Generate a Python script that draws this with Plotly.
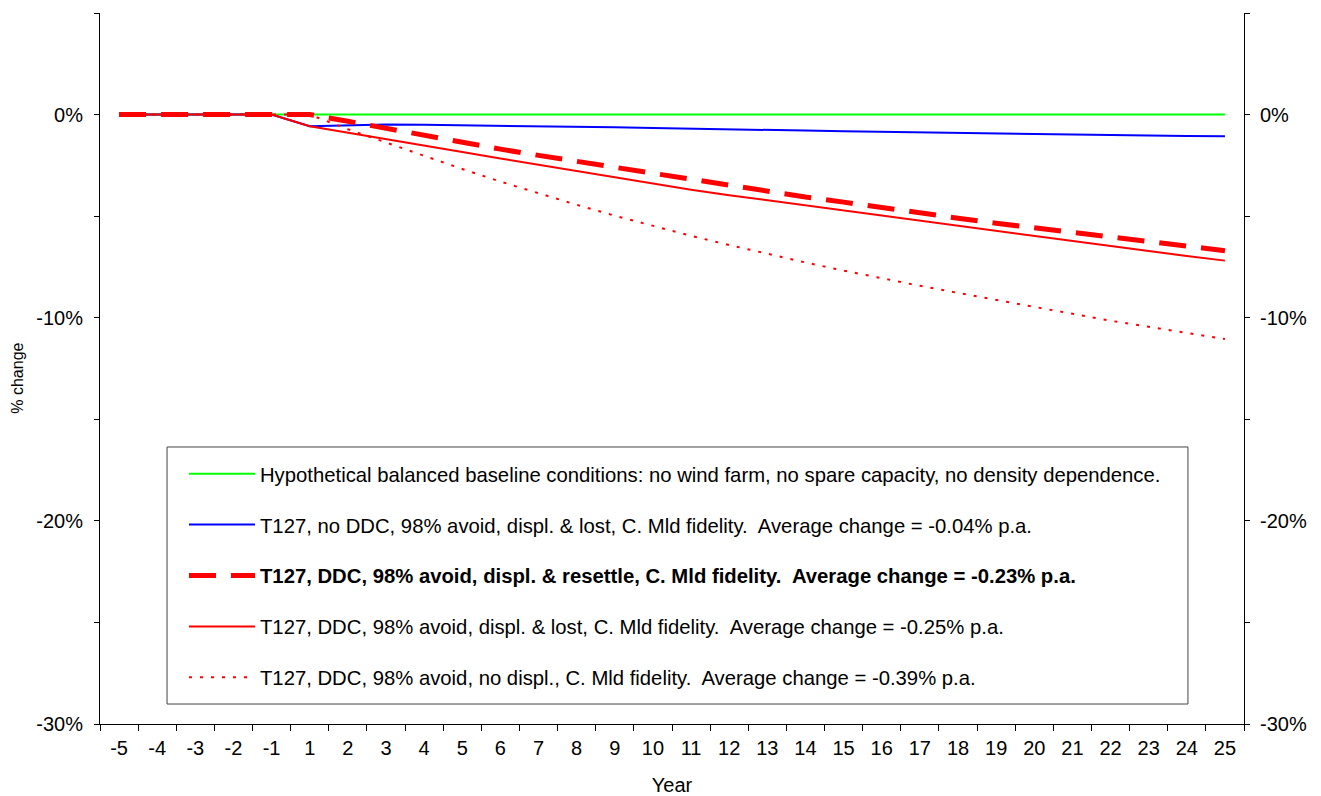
import plotly.graph_objects as go

# ---------------- data ----------------
years = ["-5", "-4", "-3", "-2", "-1", "1", "2", "3", "4", "5", "6", "7", "8", "9", "10",
         "11", "12", "13", "14", "15", "16", "17", "18", "19", "20", "21", "22", "23", "24", "25"]

baseline = [0, 0, 0, 0, 0, 0, 0, 0, 0, 0, 0, 0, 0, 0, 0,
            0, 0, 0, 0, 0, 0, 0, 0, 0, 0, 0, 0, 0, 0, 0]

no_ddc_lost = [0, 0, 0, 0, 0, -0.57, -0.52, -0.49, -0.50, -0.52, -0.54, -0.57, -0.60, -0.63, -0.66,
               -0.70, -0.73, -0.76, -0.79, -0.82, -0.85, -0.88, -0.90, -0.93, -0.95, -0.98, -1.00, -1.03, -1.05, -1.07]

ddc_resettle = [0, 0, 0, 0, 0, 0, -0.33, -0.68, -1.04, -1.38, -1.70, -2.01, -2.31, -2.61, -2.91,
                -3.21, -3.48, -3.78, -4.06, -4.31, -4.59, -4.85, -5.10, -5.35, -5.59, -5.82, -6.03, -6.25, -6.47, -6.70]

ddc_lost = [0, 0, 0, 0, 0, -0.57, -0.88, -1.20, -1.52, -1.84, -2.16, -2.47, -2.78, -3.09, -3.40,
            -3.70, -3.97, -4.22, -4.47, -4.73, -4.98, -5.23, -5.49, -5.74, -5.99, -6.25, -6.49, -6.72, -6.96, -7.19]

ddc_no_displ = [0, 0, 0, 0, 0, 0, -0.72, -1.38, -2.03, -2.68, -3.30, -3.88, -4.44, -4.98, -5.49,
                -5.97, -6.42, -6.86, -7.28, -7.68, -8.07, -8.43, -8.78, -9.13, -9.48, -9.82, -10.15, -10.45, -10.75, -11.05]

names = [
    "Hypothetical balanced baseline conditions: no wind farm, no spare capacity, no density dependence.",
    "T127, no DDC, 98% avoid, displ. & lost, C. Mld fidelity.\u00a0 Average change = -0.04% p.a.",
    "<b>T127, DDC, 98% avoid, displ. & resettle, C. Mld fidelity.\u00a0 Average change = -0.23% p.a.</b>",
    "T127, DDC, 98% avoid, displ. & lost, C. Mld fidelity.\u00a0 Average change = -0.25% p.a.",
    "T127, DDC, 98% avoid, no displ., C. Mld fidelity.\u00a0 Average change = -0.39% p.a.",
]

y_tickvals = [-30, -20, -10, 0]
y_ticktext = ["-30%", "-20%", "-10%", "0%"]

FONT = "Liberation Sans, Arial, sans-serif"

# ---------------- figure ----------------
fig = go.Figure()

series = [
    (baseline, "#00ff00", 2, "solid", 0),
    (no_ddc_lost, "#0000ff", 2, "solid", 1),
    (ddc_no_displ, "#ff0000", 2, "3px,8px", 4),
    (ddc_lost, "#ff0000", 2, "solid", 3),
    (ddc_resettle, "#ff0000", 5, "27px,15px", 2),
]

for vals, color, width, dash, idx in series:
    fig.add_trace(go.Scatter(
        x=years, y=vals, mode="lines", name=names[idx],
        line=dict(color=color, width=width, dash=dash),
        legendgroup=f"g{idx}", legendrank=idx + 1,
        hoverinfo="skip",
    ))

# invisible trace for the right axis
fig.add_trace(go.Scatter(x=years, y=baseline, yaxis="y2", mode="lines",
                         line=dict(width=0), showlegend=False, hoverinfo="skip"))

axis_font = dict(family=FONT, size=20, color="black")

# legend frame (decorative box in paper coordinates)
fig.add_shape(type="rect", xref="paper", yref="paper",
              x0=0.0586, x1=0.951, y0=0.0281, y1=0.3896,
              line=dict(color="#444444", width=1), fillcolor="white", layer="below")

# y-axis title as rotated annotation
fig.add_annotation(text="% change", xref="paper", yref="paper",
                   x=-0.0717, y=0.487, textangle=-90, showarrow=False,
                   xanchor="center", yanchor="middle",
                   font=dict(family=FONT, size=16, color="black"))

fig.update_layout(
    width=1321, height=796,
    margin=dict(l=100, r=77, t=13, b=72, autoexpand=False),
    paper_bgcolor="white", plot_bgcolor="white",
    font=dict(family=FONT, size=20, color="black"),
    showlegend=True,
    legend=dict(
        x=0.0734, y=0.3797, xanchor="left", yanchor="top",
        bgcolor="rgba(0,0,0,0)", borderwidth=0,
        font=dict(family=FONT, size=20.3, color="black"),
        traceorder="grouped", tracegroupgap=21.5,
        itemwidth=66,
    ),
    xaxis=dict(
        type="category", categoryorder="array", categoryarray=years,
        range=[-0.5, 29.5], automargin=False,
        showline=True, linecolor="black", linewidth=1,
        ticks="outside", ticklen=6, tickcolor="black", tickson="boundaries",
        ticklabelstandoff=6,
        showgrid=False, zeroline=False, tickfont=axis_font,
        title=dict(text="Year", font=axis_font, standoff=22),
    ),
    yaxis=dict(
        range=[-30, 5], automargin=False,
        tickvals=y_tickvals, ticktext=y_ticktext,
        showline=True, linecolor="black", linewidth=1,
        ticks="outside", ticklen=5, tickcolor="black",
        ticklabelstandoff=7,
        minor=dict(tickvals=[-25, -15, -5, 5], ticks="outside", ticklen=5, tickcolor="black"),
        showgrid=False, zeroline=False, tickfont=axis_font,
    ),
    yaxis2=dict(
        range=[-30, 5], overlaying="y", side="right", automargin=False,
        tickvals=y_tickvals, ticktext=y_ticktext,
        showline=True, linecolor="black", linewidth=1,
        ticks="outside", ticklen=5, tickcolor="black",
        ticklabelstandoff=6,
        minor=dict(tickvals=[-25, -15, -5, 5], ticks="outside", ticklen=5, tickcolor="black"),
        showgrid=False, zeroline=False, tickfont=axis_font,
    ),
)

fig.write_html("out.html")
